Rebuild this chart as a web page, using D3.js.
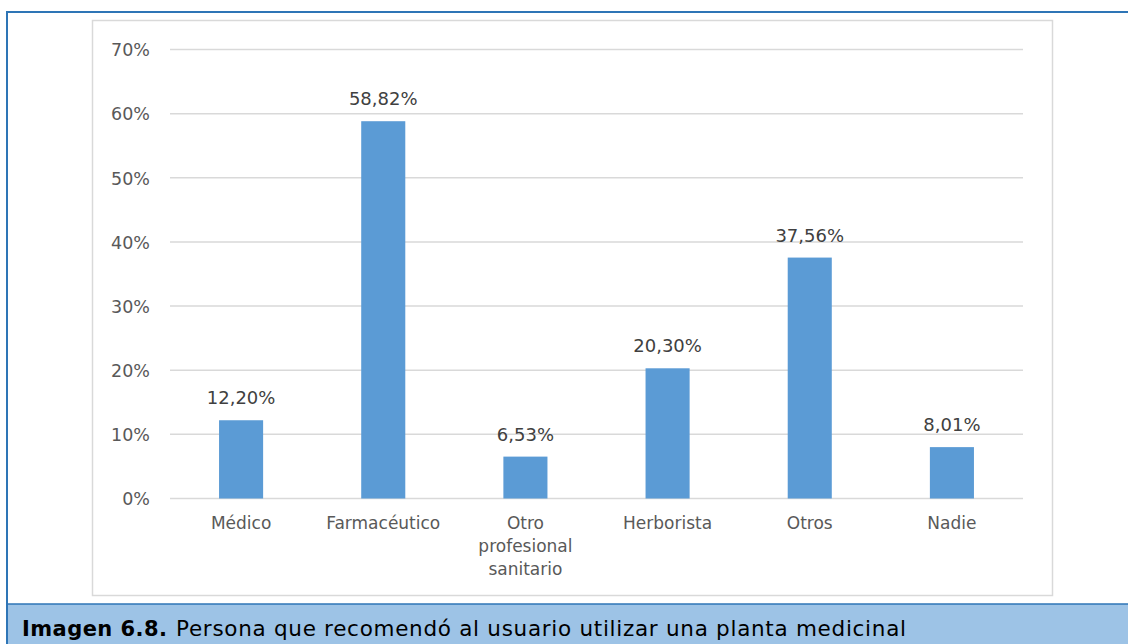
<!DOCTYPE html>
<html><head><meta charset="utf-8">
<script src="https://cdn.jsdelivr.net/npm/d3@7"></script>
<style>
html,body{margin:0;padding:0;background:#fff;}
svg{display:block;}
</style></head>
<body>
<svg id="chart" width="1128" height="644"></svg>
<script>
const categories = ["Médico", "Farmacéutico", "Otro profesional sanitario", "Herborista", "Otros", "Nadie"];
const categoryLines = [["Médico"], ["Farmacéutico"], ["Otro", "profesional", "sanitario"], ["Herborista"], ["Otros"], ["Nadie"]];
const values = [12.20, 58.82, 6.53, 20.30, 37.56, 8.01];
const valueLabels = ["12,20%", "58,82%", "6,53%", "20,30%", "37,56%", "8,01%"];
const yTicks = [0, 10, 20, 30, 40, 50, 60, 70];
const yTickLabels = ["0%", "10%", "20%", "30%", "40%", "50%", "60%", "70%"];
const captionBold = "Imagen 6.8.";
const captionText = "Persona que recomendó al usuario utilizar una planta medicinal";

const FONT = "'DejaVu Sans', sans-serif";
const svg = d3.select("#chart");

// caption band
svg.append("rect").attr("x", 7).attr("y", 604).attr("width", 1121).attr("height", 40).attr("fill", "#9DC3E6");
// outer blue frame
svg.append("path").attr("d", "M7,644 V12 H1128").attr("fill", "none").attr("stroke", "#2E75B6").attr("stroke-width", 2);
svg.append("line").attr("x1", 7).attr("x2", 1128).attr("y1", 604).attr("y2", 604).attr("stroke", "#2E75B6").attr("stroke-width", 1.5);
// chart area border
svg.append("rect").attr("x", 92.5).attr("y", 20.5).attr("width", 960).attr("height", 575).attr("fill", "#fff").attr("stroke", "#D9D9D9").attr("stroke-width", 1.5);

const x = d3.scaleBand().domain(categories).range([170, 1023]).paddingInner(0.69).paddingOuter(0.345);
const y = d3.scaleLinear().domain([0, 70]).range([498.5, 49.5]);

// gridlines
svg.append("g").selectAll("line").data(yTicks).join("line")
  .attr("x1", 170).attr("x2", 1023)
  .attr("y1", d => y(d)).attr("y2", d => y(d))
  .attr("stroke", "#D9D9D9").attr("stroke-width", 1.5);

// y axis labels
const yAxis = d3.axisLeft(y).tickValues(yTicks).tickFormat((d, i) => yTickLabels[i]).tickSize(0).tickPadding(0);
const yg = svg.append("g").attr("transform", "translate(150,0)").call(yAxis);
yg.select(".domain").remove();
yg.selectAll("text").attr("font-family", FONT).attr("font-size", 17.5).attr("fill", "#595959").attr("dy", "0.36em");

// bars
svg.append("g").selectAll("rect").data(values).join("rect")
  .attr("x", (d, i) => x(categories[i]))
  .attr("width", x.bandwidth())
  .attr("y", d => y(d))
  .attr("height", d => y(0) - y(d))
  .attr("fill", "#5B9BD5");

// value labels
svg.append("g").selectAll("text").data(values).join("text")
  .attr("x", (d, i) => x(categories[i]) + x.bandwidth() / 2)
  .attr("y", d => y(d) - 16)
  .attr("text-anchor", "middle")
  .attr("font-family", FONT).attr("font-size", 18).attr("fill", "#404040")
  .text((d, i) => valueLabels[i]);

// x axis labels
const xAxis = d3.axisBottom(x).tickSize(0).tickFormat(() => "");
const xg = svg.append("g").attr("transform", `translate(0,${y(0)})`).call(xAxis);
xg.select(".domain").remove();
xg.selectAll(".tick").each(function(d, i) {
  const t = d3.select(this).append("text")
    .attr("text-anchor", "middle").attr("font-family", FONT).attr("font-size", 17).attr("fill", "#595959");
  categoryLines[i].forEach((ln, j) => {
    t.append("tspan").attr("x", 0).attr("y", 30 + j * 23).text(ln);
  });
});

// caption
svg.append("text").attr("x", 22).attr("y", 636).attr("font-family", FONT).attr("font-size", 21)
  .attr("font-weight", "bold").attr("fill", "#000")
  .attr("textLength", 145).attr("lengthAdjust", "spacing").text(captionBold);
svg.append("text").attr("x", 176).attr("y", 636).attr("font-family", FONT).attr("font-size", 21.5)
  .attr("fill", "#000")
  .attr("textLength", 730).attr("lengthAdjust", "spacing").text(captionText);
</script>
</body></html>
